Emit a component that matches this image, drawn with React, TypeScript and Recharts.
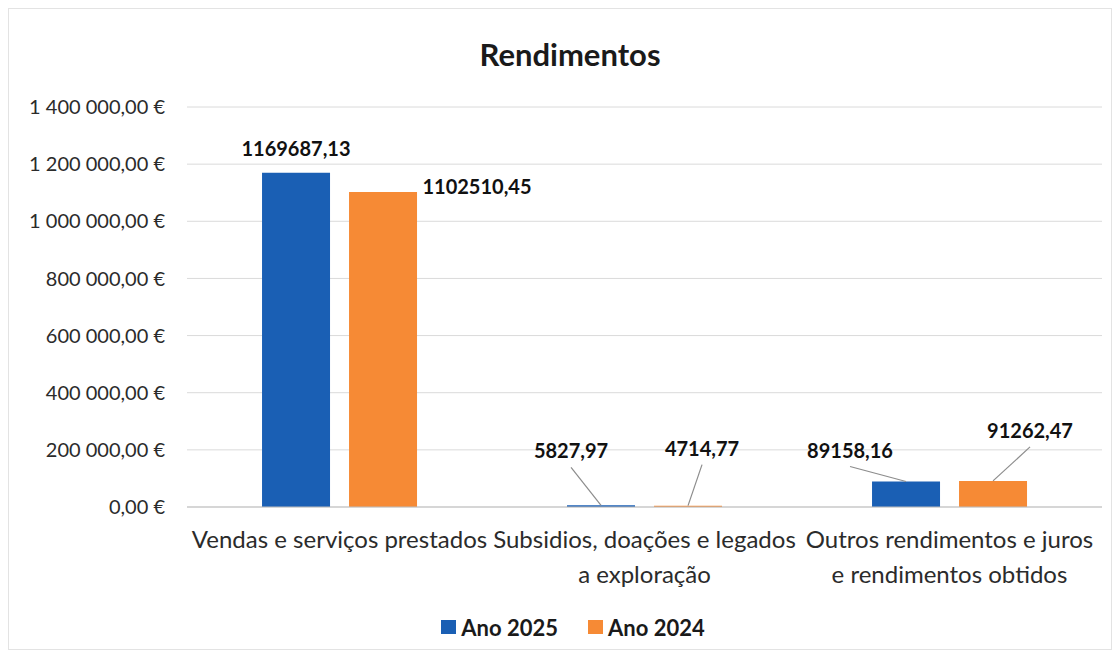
import { BarChart, Bar, XAxis, YAxis, CartesianGrid, Legend, LabelList } from 'recharts'

const categories = [
  'Vendas e serviços prestados',
  'Subsidios, doações e legados\na exploração',
  'Outros rendimentos e juros\ne rendimentos obtidos',
]
const ano2025 = [1169687.13, 5827.97, 89158.16]
const ano2024 = [1102510.45, 4714.77, 91262.47]
const yTicks = [0, 200000, 400000, 600000, 800000, 1000000, 1200000, 1400000]
const seriesNames = ['Ano 2025', 'Ano 2024']

const BLUE = '#1a5fb4'
const ORANGE = '#f68a35'
const FONT = 'Lato, "Liberation Sans", sans-serif'

const data = categories.map((name, i) => ({
  name,
  a2025: ano2025[i],
  a2024: ano2024[i],
}))

// where each value label sits, relative to the top centre of its bar
const place2025 = [
  { dx: 0, dy: -25, line: false },
  { dx: -30, dy: -55, line: true },
  { dx: -56, dy: -32, line: true },
]
const place2024 = [
  { dx: 94, dy: -6, line: false },
  { dx: 14, dy: -58, line: true },
  { dx: 37, dy: -51, line: true },
]

const fmtValue = (v: number) => v.toFixed(2).replace('.', ',')

const fmtEuro = (v: number) => {
  const [int, dec] = v.toFixed(2).split('.')
  return int.replace(/\B(?=(\d{3})+(?!\d))/g, ' ') + ',' + dec + ' €'
}

function makeLabel(place: { dx: number; dy: number; line: boolean }[]) {
  return (props: any) => {
    const { x, y, width, value, index } = props
    const p = place[index]
    if (!p) return null
    const cx = Number(x) + Number(width) / 2
    const top = Number(y)
    const lx = cx + p.dx
    const ly = top + p.dy
    return (
      <g>
        {p.line && (
          <line x1={lx} y1={ly + 17} x2={cx} y2={top} stroke="#8c8c8c" strokeWidth={1.2} />
        )}
        <text
          x={lx}
          y={ly}
          textAnchor="middle"
          dominantBaseline="central"
          fontFamily={FONT}
          fontWeight={700}
          fontSize={20}
          fill="#111"
        >
          {fmtValue(Number(value))}
        </text>
      </g>
    )
  }
}

function CategoryTick({ x, y, payload }: any) {
  const lines = String(payload.value).split('\n')
  return (
    <text x={x} y={y} textAnchor="middle" fontFamily={FONT} fontSize={24} fill="#2b2b2b">
      {lines.map((l, i) => (
        <tspan key={i} x={x} dy={i === 0 ? 33 : 35}>
          {l}
        </tspan>
      ))}
    </text>
  )
}

function LegendContent() {
  const colors = [BLUE, ORANGE]
  return (
    <div
      style={{
        display: 'flex',
        justifyContent: 'center',
        alignItems: 'center',
        height: 40,
        paddingLeft: 44,
        fontFamily: FONT,
        fontWeight: 700,
        fontSize: 22,
        color: '#1a1a1a',
      }}
    >
      {seriesNames.map((n, i) => (
        <div key={n} style={{ display: 'flex', alignItems: 'center', marginRight: i === 0 ? 30 : 0 }}>
          <span style={{ width: 15, height: 14, background: colors[i], marginRight: 5, display: 'inline-block' }} />
          {n}
        </div>
      ))}
    </div>
  )
}

export default function App() {
  return (
    <div style={{ position: 'absolute', left: 0, top: 0, width: 1120, height: 658, background: '#fff' }}>
      <div
        style={{
          position: 'absolute',
          left: 8,
          top: 8,
          width: 1102,
          height: 640,
          border: '1px solid #e3e3e3',
        }}
      />
      <div
        style={{
          position: 'absolute',
          left: 0,
          width: 1140,
          top: 34,
          textAlign: 'center',
          fontFamily: FONT,
          fontWeight: 700,
          fontSize: 31,
          color: '#1a1a1a',
          lineHeight: '40px',
        }}
      >
        Rendimentos
      </div>
      <div style={{ position: 'absolute', left: 0, top: 0 }}>
        <BarChart
          width={1120}
          height={658}
          data={data}
          margin={{ top: 107, right: 18, bottom: 11, left: 0 }}
          barCategoryGap="24.6%"
          barGap={19}
        >
          <CartesianGrid vertical={false} stroke="#dadada" />
          <YAxis
            width={187}
            domain={[0, 1400000]}
            ticks={yTicks}
            interval={0}
            axisLine={false}
            tickLine={false}
            tickSize={6}
            tickMargin={16}
            tickFormatter={fmtEuro}
            tick={{ fontFamily: FONT, fontSize: 20, fill: '#2b2b2b' }}
          />
          <XAxis
            dataKey="name"
            height={100}
            interval={0}
            tickLine={false}
            axisLine={{ stroke: '#bfbfbf' }}
            tick={<CategoryTick />}
          />
          <Legend verticalAlign="bottom" height={40} content={<LegendContent />} />
          <Bar dataKey="a2025" name="Ano 2025" fill={BLUE} isAnimationActive={false}>
            <LabelList dataKey="a2025" content={makeLabel(place2025)} />
          </Bar>
          <Bar dataKey="a2024" name="Ano 2024" fill={ORANGE} isAnimationActive={false}>
            <LabelList dataKey="a2024" content={makeLabel(place2024)} />
          </Bar>
        </BarChart>
      </div>
    </div>
  )
}
